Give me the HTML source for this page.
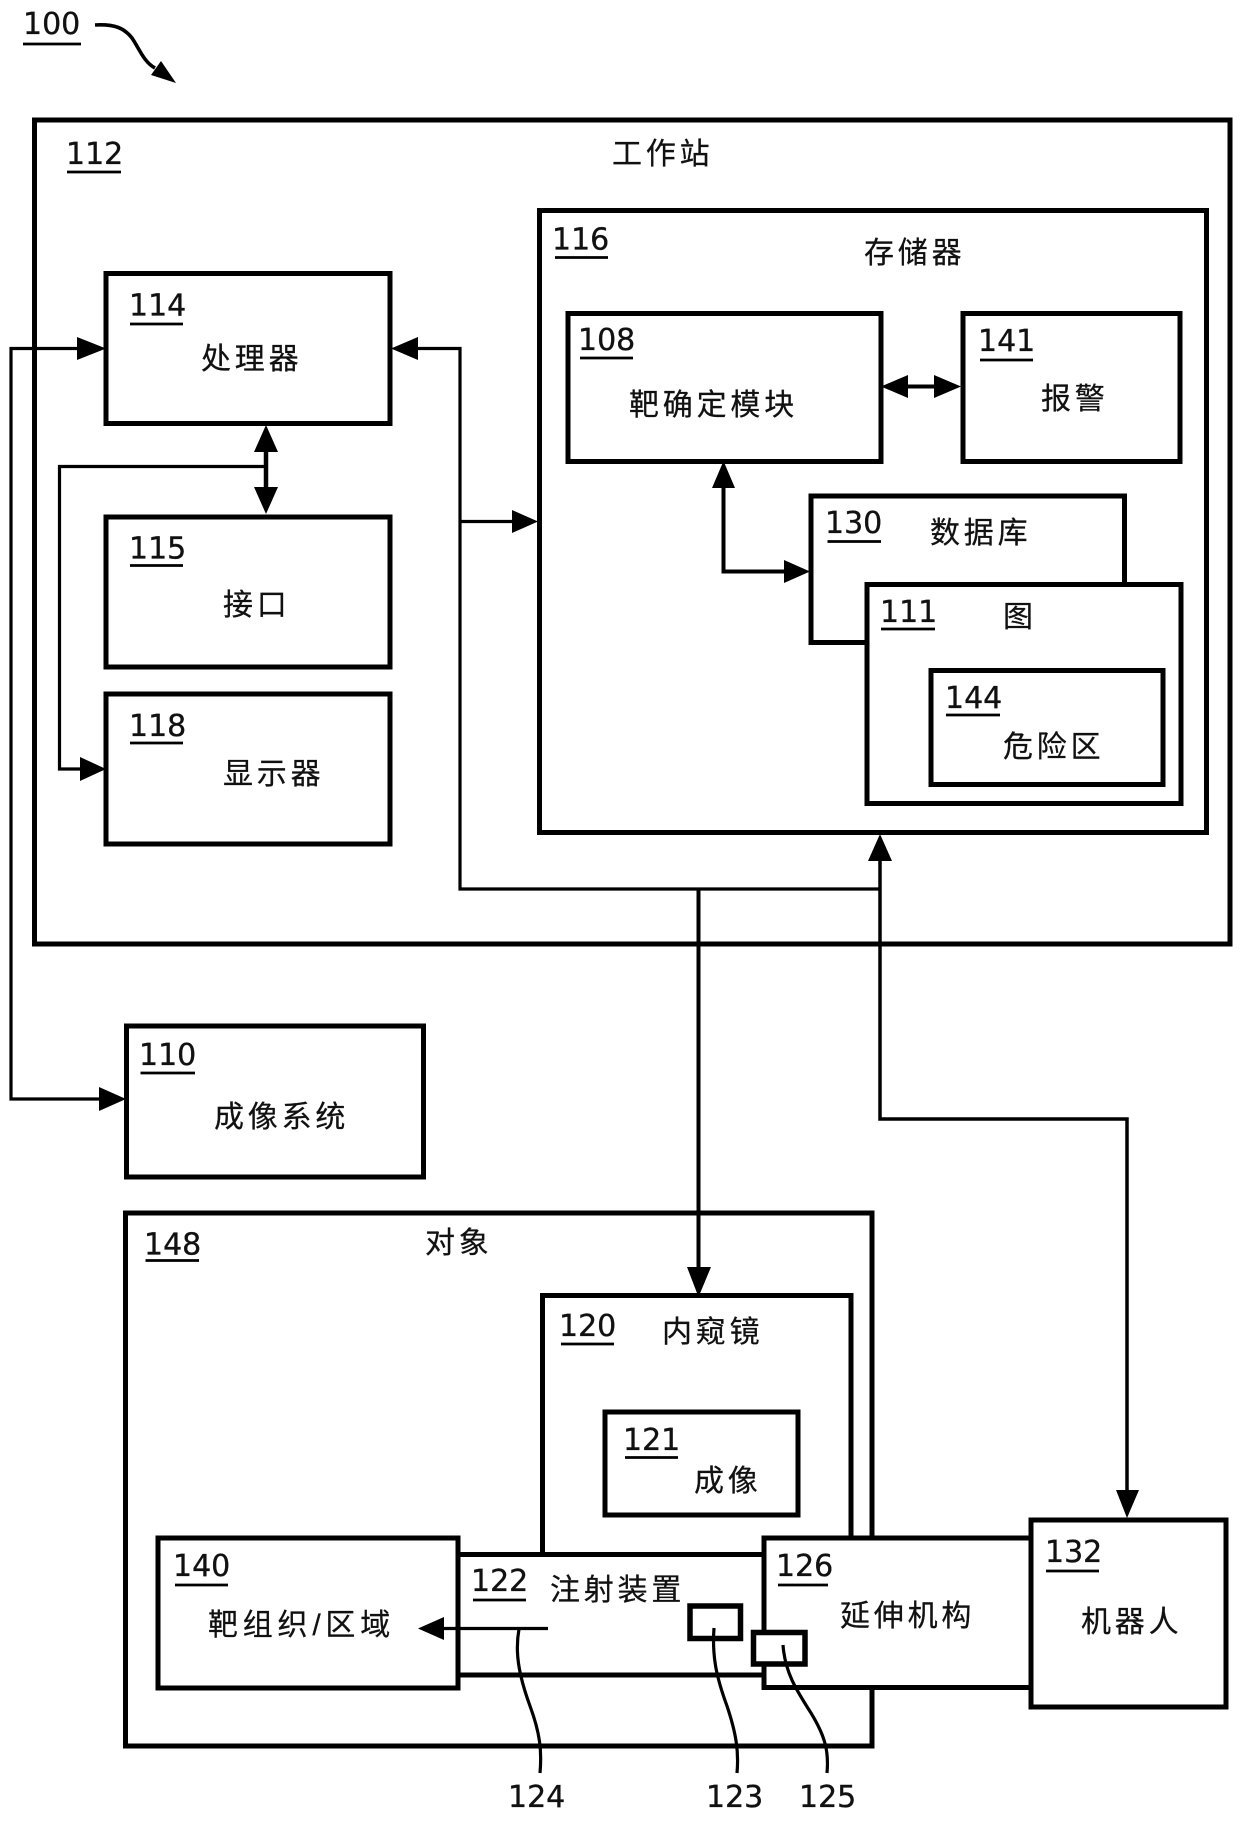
<!DOCTYPE html>
<html>
<head>
<meta charset="utf-8">
<style>
html,body{margin:0;padding:0;background:#fff;}
svg{display:block;}
.n{font-family:"DejaVu Sans",sans-serif;font-size:30px;fill:#111;stroke:#111;stroke-width:.35px;}
.c{font-family:"Liberation Sans","Noto Sans CJK SC",sans-serif;font-size:30px;fill:#111;letter-spacing:3.8px;stroke:#111;stroke-width:.25px;}
.b{fill:#fff;stroke:#000;stroke-width:5;}
.l{fill:none;stroke:#000;stroke-width:3.2;}
.t{fill:none;stroke:#000;stroke-width:4;}
.u{stroke:#000;stroke-width:2.8;}
.h{fill:#000;stroke:none;}
</style>
</head>
<body>
<svg width="1240" height="1822" viewBox="0 0 1240 1822" xmlns="http://www.w3.org/2000/svg">
<rect width="1240" height="1822" fill="#fff"/>

<!-- workstation -->
<rect class="b" x="34.5" y="120" width="1195.5" height="824"/>
<rect class="b" x="106" y="273.5" width="284" height="150"/>
<rect class="b" x="106" y="517" width="284" height="150"/>
<rect class="b" x="106" y="694" width="284" height="150"/>
<rect class="b" x="539.5" y="210.5" width="667" height="622"/>
<rect class="b" x="568" y="313.5" width="313" height="148"/>
<rect class="b" x="963" y="313.5" width="217" height="148"/>
<rect class="b" x="811" y="496" width="313.5" height="146.5"/>
<rect class="b" x="867" y="584.5" width="314" height="219"/>
<rect class="b" x="931" y="670.5" width="232" height="114"/>

<!-- imaging -->
<rect class="b" x="126.5" y="1026" width="297" height="151"/>

<!-- subject -->
<rect class="b" x="125.5" y="1213" width="746.5" height="533"/>
<rect class="b" x="542.5" y="1295.5" width="308.5" height="280"/>
<rect class="b" x="605" y="1412" width="193" height="103"/>
<rect class="b" x="458" y="1554.5" width="310" height="120.5"/>
<rect class="b" x="158" y="1538" width="300" height="150"/>
<rect class="b" x="764" y="1538" width="267" height="149.5"/>
<rect class="b" x="1031" y="1520" width="195" height="187"/>
<rect class="b" x="690" y="1606" width="50.5" height="32.5" style="stroke-width:5.5"/>
<rect class="b" x="753.5" y="1632.5" width="51.5" height="31.5" style="stroke-width:5.5"/>

<!-- connectors -->
<path class="l" d="M80 348.5H11V1099H100"/>
<polygon class="h" points="106,348.5 77,337 77,360"/>
<polygon class="h" points="126,1099 99,1087 99,1111"/>

<path class="l" d="M418 348.5H460V889H880"/>
<polygon class="h" points="391,348.5 418,337 418,360"/>
<path class="l" d="M460 521.5H515"/>
<polygon class="h" points="538,521.5 512,510 512,533"/>

<path class="t" d="M266 445V495" style="stroke-width:4.5"/>
<polygon class="h" points="266,425 254,452 278,452"/>
<polygon class="h" points="266,514 254,487 278,487"/>
<path class="l" d="M266 466.5H59.5V769H85"/>
<polygon class="h" points="106,769 80,757 80,781"/>

<path class="t" d="M905 386.5H940"/>
<polygon class="h" points="881,386.5 908,375 908,398"/>
<polygon class="h" points="961,386.5 934,375 934,398"/>

<path class="t" d="M723.5 485V571.5H790"/>
<polygon class="h" points="723.5,461 712,488 735,488"/>
<polygon class="h" points="810,571.5 784,560 784,583"/>

<path class="t" d="M698.5 889V1270"/>
<polygon class="h" points="698.5,1297 687,1267 711,1267"/>

<path class="t" d="M880 855V1119H1127V1495" style="stroke-width:3.5"/>
<polygon class="h" points="880,834 868,861 892,861"/>
<polygon class="h" points="1127,1518 1116,1490 1139,1490"/>

<path class="l" d="M548 1628.5H440"/>
<polygon class="h" points="418,1628.5 444,1617 444,1640"/>

<!-- leaders -->
<path class="l" d="M519 1629C515 1651 518 1673 530 1706C540 1733 542 1751 540 1773"/>
<path class="l" d="M714 1628C712 1656 716 1676 727 1706C736 1733 739 1751 737 1773"/>
<path class="l" d="M783 1645C785 1673 797 1691 811 1713C825 1736 829 1751 827 1773"/>
<path d="M95 25C115 24 124 28 132 38C140 50 144 62 155 68" fill="none" stroke="#000" stroke-width="3.6"/>
<polygon class="h" points="176,83 151,75 161,61"/>

<!-- numbers -->
<text class="n" x="23" y="34">100</text><line class="u" x1="23" y1="44" x2="81" y2="44"/>
<text class="n" x="66" y="164">112</text><line class="u" x1="67" y1="172" x2="121" y2="172"/>
<text class="n" x="129" y="315.5">114</text><line class="u" x1="130" y1="324" x2="183" y2="324"/>
<text class="n" x="552" y="249.5">116</text><line class="u" x1="555" y1="257.5" x2="608" y2="257.5"/>
<text class="n" x="129" y="558.5">115</text><line class="u" x1="130" y1="565.5" x2="183" y2="565.5"/>
<text class="n" x="129" y="736">118</text><line class="u" x1="130" y1="743" x2="183" y2="743"/>
<text class="n" x="578" y="350">108</text><line class="u" x1="580" y1="358" x2="633" y2="358"/>
<text class="n" x="978" y="351">141</text><line class="u" x1="980" y1="360" x2="1033" y2="360"/>
<text class="n" x="825" y="533">130</text><line class="u" x1="827.5" y1="541.5" x2="881" y2="541.5"/>
<text class="n" x="880" y="622">111</text><line class="u" x1="881" y1="629" x2="935" y2="629"/>
<text class="n" x="945" y="708">144</text><line class="u" x1="946" y1="715" x2="1000" y2="715"/>
<text class="n" x="139" y="1065">110</text><line class="u" x1="140.5" y1="1073" x2="195" y2="1073"/>
<text class="n" x="144" y="1254.5">148</text><line class="u" x1="145.5" y1="1260.5" x2="199" y2="1260.5"/>
<text class="n" x="559" y="1336">120</text><line class="u" x1="561" y1="1344" x2="614" y2="1344"/>
<text class="n" x="623" y="1450">121</text><line class="u" x1="625" y1="1457.5" x2="678" y2="1457.5"/>
<text class="n" x="173" y="1576">140</text><line class="u" x1="175" y1="1585" x2="228" y2="1585"/>
<text class="n" x="471" y="1591">122</text><line class="u" x1="473" y1="1600" x2="526" y2="1600"/>
<text class="n" x="776" y="1576">126</text><line class="u" x1="778" y1="1585" x2="828" y2="1585"/>
<text class="n" x="1045" y="1562">132</text><line class="u" x1="1046" y1="1571" x2="1099" y2="1571"/>
<text class="n" x="508" y="1807">124</text>
<text class="n" x="706" y="1807">123</text>
<text class="n" x="799" y="1807">125</text>

<!-- labels -->
<text class="c" x="612" y="164">工作站</text>
<text class="c" x="201" y="369">处理器</text>
<text class="c" x="864" y="263">存储器</text>
<text class="c" x="629" y="415">靶确定模块</text>
<text class="c" x="1041" y="409">报警</text>
<text class="c" x="930" y="543">数据库</text>
<text class="c" x="1003" y="627">图</text>
<text class="c" x="1003" y="757">危险区</text>
<text class="c" x="223" y="615">接口</text>
<text class="c" x="223" y="784">显示器</text>
<text class="c" x="214" y="1127">成像系统</text>
<text class="c" x="425" y="1253">对象</text>
<text class="c" x="662" y="1342">内窥镜</text>
<text class="c" x="694" y="1491">成像</text>
<text class="c" x="208" y="1635" textLength="186" lengthAdjust="spacing">靶组织/区域</text>
<text class="c" x="550" y="1600">注射装置</text>
<text class="c" x="840" y="1626">延伸机构</text>
<text class="c" x="1081" y="1632">机器人</text>
</svg>
</body>
</html>
